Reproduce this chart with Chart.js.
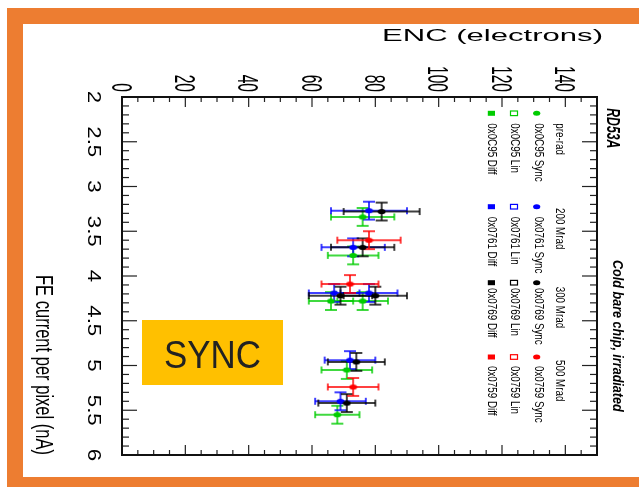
<!DOCTYPE html>
<html>
<head>
<meta charset="utf-8">
<script src="https://cdn.jsdelivr.net/npm/chart.js@4.4.1/dist/chart.umd.min.js"></script>
<style>
  html, body { margin: 0; padding: 0; background: #fff; }
  #wrap { width: 639px; height: 487px; }
</style>
</head>
<body>
<div id="wrap"><canvas id="c" width="639" height="487"></canvas></div>
<script>
// ENC (electrons) vs FE current per pixel (nA), SYNC front end
const preRadENC = [76, 73, 66, 76, 71, 68];
const preRadFE = [3.34, 3.77, 4.28, 4.28, 5.05, 5.55];
const preRadEncErr = [10, 8, 7, 8, 8, 7];
const preRadFeErr = [0.1, 0.1, 0.1, 0.1, 0.1, 0.1];

const mrad200ENC = [78, 73, 67, 78, 72, 69];
const mrad200FE = [3.27, 3.68, 4.19, 4.19, 4.94, 5.40];
const mrad200EncErr = [12, 10, 8, 9, 8, 8];
const mrad200FeErr = [0.1, 0.1, 0.1, 0.1, 0.1, 0.1];

const mrad300ENC = [82, 76, 69, 80, 74, 71];
const mrad300FE = [3.28, 3.68, 4.22, 4.22, 4.96, 5.42];
const mrad300EncErr = [12, 10, 10, 10, 9, 9];
const mrad300FeErr = [0.1, 0.1, 0.1, 0.1, 0.1, 0.1];

const mrad500ENC = [78, 72, 73];
const mrad500FE = [3.60, 4.09, 5.24];
const mrad500EncErr = [10, 9, 8];
const mrad500FeErr = [0.1, 0.1, 0.1];

const encTicks = [0, 20, 40, 60, 80, 100, 120, 140];
const feTicks = [2, 2.5, 3, 3.5, 4, 4.5, 5, 5.5, 6];
const feTickLabels = ['2', '2.5', '3', '3.5', '4', '4.5', '5', '5.5', '6'];

const legendHeaders = ['pre-rad', '200 Mrad', '300 Mrad', '500 Mrad'];
const legendChips = ['0x0C95', '0x0761', '0x0769', '0x0759'];

const GREEN = '#00cc00', BLUE = '#0000ff', BLACK = '#000000', RED = '#ff0000';
const FONT = '"Liberation Sans", Arial, sans-serif';

function dot(color) {
  const c = document.createElement('canvas');
  c.width = 9; c.height = 7;
  const g = c.getContext('2d');
  g.fillStyle = color;
  g.beginPath();
  g.ellipse(4.5, 3.5, 3.9, 2.6, 0, 0, Math.PI * 2);
  g.fill();
  return c;
}

function pts(enc, fe) {
  return enc.map((v, i) => ({ x: v, y: fe[i] }));
}

function rgba(hex, a) {
  const n = parseInt(hex.slice(1), 16);
  return `rgba(${n >> 16},${(n >> 8) & 255},${n & 255},${a})`;
}

// text with separate size across / along the reading direction
function txt(ctx, str, x, y, o) {
  const f = o.cap / 0.716;
  ctx.save();
  ctx.font = `${o.style || 'normal'} ${o.weight || 'normal'} ${f}px ${FONT}`;
  let sx = o.sx || 1;
  if (o.len) sx = o.len / ctx.measureText(str).width;
  ctx.translate(x, y);
  if (o.rot) ctx.rotate(Math.PI / 2);
  ctx.scale(sx, 1);
  ctx.textAlign = o.align || 'left';
  ctx.textBaseline = 'alphabetic';
  ctx.fillStyle = o.color || '#000';
  ctx.fillText(str, 0, 0);
  ctx.restore();
}

function seg(ctx, x1, y1, x2, y2) {
  ctx.beginPath();
  ctx.moveTo(x1, y1);
  ctx.lineTo(x2, y2);
  ctx.stroke();
}

const errorBars = {
  id: 'errorBars',
  beforeDatasetsDraw(chart) {
    const ctx = chart.ctx, xs = chart.scales.x, ys = chart.scales.y;
    ctx.save();
    chart.data.datasets.forEach(ds => {
      ctx.strokeStyle = rgba(ds.color, 0.75);
      ctx.lineWidth = 2;
      ds.data.forEach((p, i) => {
        const cx = xs.getPixelForValue(p.x), cy = ys.getPixelForValue(p.y);
        const x1 = xs.getPixelForValue(p.x - ds.encErr[i]);
        const x2 = xs.getPixelForValue(p.x + ds.encErr[i]);
        const y1 = ys.getPixelForValue(p.y - ds.feErr[i]);
        const y2 = ys.getPixelForValue(p.y + ds.feErr[i]);
        seg(ctx, x1, cy, x2, cy);
        seg(ctx, x1, cy - 3.5, x1, cy + 3.5);
        seg(ctx, x2, cy - 3.5, x2, cy + 3.5);
        seg(ctx, cx, y1, cx, y2);
        seg(ctx, cx - 6, y1, cx + 6, y1);
        seg(ctx, cx - 6, y2, cx + 6, y2);
      });
    });
    ctx.restore();
  }
};

const decor = {
  id: 'decor',
  beforeDraw(chart) {
    const ctx = chart.ctx;
    ctx.save();
    ctx.fillStyle = '#fff';
    ctx.fillRect(0, 0, chart.width, chart.height);
    ctx.restore();
  },
  afterDraw(chart) {
    const ctx = chart.ctx, xs = chart.scales.x, ys = chart.scales.y, a = chart.chartArea;
    ctx.save();

    // frame + ticks on all four sides
    ctx.strokeStyle = '#222';
    ctx.lineWidth = 1.2;
    for (let i = 0; i <= 30; i++) {
      const px = xs.getPixelForValue(i * 5);
      const len = (i * 5) % 20 === 0 ? 10 : 5;
      seg(ctx, px, a.top, px, a.top + len);
      seg(ctx, px, a.bottom, px, a.bottom - len);
    }
    for (let i = 0; i <= 40; i++) {
      const py = ys.getPixelForValue(2 + i * 0.1);
      const len = i % 5 === 0 ? 15 : 7;
      seg(ctx, a.left, py, a.left + len, py);
      seg(ctx, a.right, py, a.right - len, py);
    }
    ctx.strokeStyle = '#111';
    ctx.lineWidth = 2;
    ctx.strokeRect(a.left, a.top, a.right - a.left, a.bottom - a.top);

    // tick labels
    encTicks.forEach(v => {
      txt(ctx, String(v), xs.getPixelForValue(v) - 10.5, 92, { cap: 21, sx: 0.53, rot: true, align: 'right' });
    });
    feTicks.forEach((v, i) => {
      txt(ctx, feTickLabels[i], 88.4, ys.getPixelForValue(v), { cap: 13.3, sx: 1.2, rot: true, align: 'center' });
    });

    // axis titles
    txt(ctx, 'ENC (electrons)', 603, 40.7, { cap: 11.6, len: 221, align: 'right' });
    txt(ctx, 'FE current per pixel (nA)', 36, 455, { cap: 17, len: 180, rot: true, align: 'right' });

    // legend
    txt(ctx, 'RD53A', 606.7, 108.3, { cap: 13.3, len: 40, rot: true, weight: 'bold', style: 'italic' });
    txt(ctx, 'Cold bare chip, irradiated', 613, 260, { cap: 10, len: 151.7, rot: true, weight: 'bold', style: 'italic' });
    const colors = [GREEN, BLUE, BLACK, RED];
    const markY = [113.3, 206.7, 282.7, 357];
    const textY = [123.3, 216.7, 288, 366];
    const headY = [123.3, 208, 286.7, 360];
    const lo = { cap: 9.5, sx: 0.74, rot: true };
    legendHeaders.forEach((h, k) => {
      const c = colors[k];
      txt(ctx, h, 556, headY[k], lo);
      txt(ctx, legendChips[k] + ' Sync', 534.5, textY[k], lo);
      txt(ctx, legendChips[k] + ' Lin', 510.5, textY[k], lo);
      txt(ctx, legendChips[k] + ' Diff', 488, textY[k], lo);
      ctx.fillStyle = c;
      ctx.beginPath();
      ctx.ellipse(536.7, markY[k], 3.6, 2.5, 0, 0, Math.PI * 2);
      ctx.fill();
      ctx.strokeStyle = c;
      ctx.lineWidth = 1.2;
      ctx.strokeRect(510.5, markY[k] - 2.3, 7, 4.6);
      ctx.fillRect(487.8, markY[k] - 2.5, 7.2, 5);
    });

    // SYNC label box
    ctx.fillStyle = '#ffc000';
    ctx.fillRect(142, 320, 141, 65);
    txt(ctx, 'SYNC', 212.5, 368, { cap: 28, len: 97, align: 'center', color: '#222' });

    // orange slide frame
    ctx.fillStyle = '#ed7d31';
    ctx.fillRect(7, 8, 632, 16);
    ctx.fillRect(7, 8, 16, 479);
    ctx.fillRect(7, 477, 632, 10);
    ctx.restore();
  }
};

const series = [
  { label: 'pre-rad', color: GREEN, enc: preRadENC, fe: preRadFE, encErr: preRadEncErr, feErr: preRadFeErr },
  { label: '200 Mrad', color: BLUE, enc: mrad200ENC, fe: mrad200FE, encErr: mrad200EncErr, feErr: mrad200FeErr },
  { label: '300 Mrad', color: BLACK, enc: mrad300ENC, fe: mrad300FE, encErr: mrad300EncErr, feErr: mrad300FeErr },
  { label: '500 Mrad', color: RED, enc: mrad500ENC, fe: mrad500FE, encErr: mrad500EncErr, feErr: mrad500FeErr }
];

new Chart(document.getElementById('c'), {
  type: 'scatter',
  data: {
    datasets: series.map((s, i) => ({
      label: s.label,
      data: pts(s.enc, s.fe),
      color: s.color,
      encErr: s.encErr,
      feErr: s.feErr,
      pointStyle: dot(s.color),
      pointRadius: 4,
      order: 3 - i
    }))
  },
  options: {
    responsive: false,
    devicePixelRatio: 1,
    animation: false,
    events: [],
    layout: { padding: { left: 122, top: 97, right: 42, bottom: 32 } },
    plugins: {
      legend: { display: false },
      tooltip: { enabled: false }
    },
    scales: {
      x: { type: 'linear', min: 0, max: 150, display: false },
      y: { type: 'linear', min: 2, max: 6, reverse: true, display: false }
    }
  },
  plugins: [errorBars, decor]
});
</script>
</body>
</html>
